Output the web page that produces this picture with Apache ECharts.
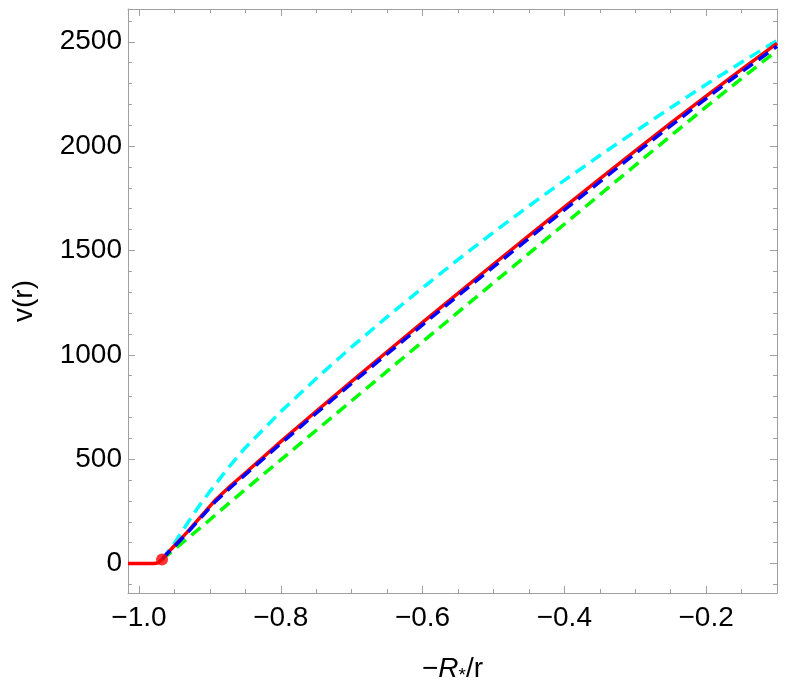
<!DOCTYPE html>
<html><head><meta charset="utf-8">
<script src="https://cdn.jsdelivr.net/npm/echarts@6/dist/echarts.min.js"></script>
<style>html,body{margin:0;padding:0;background:#fff}#c{width:789px;height:694px}</style>
</head><body><div id="c"></div>
<script>
const xMajor = [-1.0, -0.8, -0.6, -0.4, -0.2];
const xMinor = [-0.95, -0.9, -0.85, -0.75, -0.7, -0.65, -0.55, -0.5, -0.45, -0.35, -0.3, -0.25, -0.15, -0.1];
const yMajor = [0, 500, 1000, 1500, 2000, 2500];
const yMinor = [-100, 100, 200, 300, 400, 600, 700, 800, 900, 1100, 1200, 1300, 1400, 1600, 1700, 1800, 1900, 2100, 2200, 2300, 2400, 2600];

const redX = [-1.0155, -0.99, -0.98, -0.976, -0.973, -0.9705, -0.9675, -0.96, -0.95, -0.933, -0.91, -0.893, -0.87, -0.85, -0.8, -0.75, -0.7, -0.65, -0.6, -0.55, -0.5, -0.45, -0.4, -0.35, -0.3, -0.25, -0.2, -0.15, -0.1];
const redV = [0, 0, 0, 1, 4, 10, 20, 50, 85, 147, 236, 302, 375, 434, 584, 730, 873, 1015, 1156, 1295, 1434, 1571, 1708, 1843, 1977, 2110, 2240, 2368, 2492];

const blueX = [-0.9675, -0.96, -0.95, -0.933, -0.91, -0.893, -0.87, -0.85, -0.8, -0.75, -0.7, -0.65, -0.6, -0.55, -0.5, -0.45, -0.4, -0.35, -0.3, -0.25, -0.2, -0.15, -0.1];
const blueV = [20, 48, 82, 142, 230, 295, 367, 426, 575, 720, 863, 1004, 1144, 1283, 1421, 1558, 1694, 1829, 1964, 2097, 2228, 2356, 2478];

const cyanX = [-0.9675, -0.961, -0.95, -0.94, -0.925, -0.914, -0.9, -0.875, -0.85, -0.8, -0.75, -0.7, -0.65, -0.6, -0.55, -0.5, -0.45, -0.4, -0.35, -0.3, -0.25, -0.2, -0.15, -0.1];
const cyanV = [20, 49, 98, 150, 228, 282, 345, 455, 555, 728, 887, 1038, 1182, 1321, 1456, 1587, 1713, 1836, 1955, 2070, 2184, 2295, 2402, 2506];

const greenX = [-0.9675, -0.95, -0.9, -0.868, -0.8, -0.7, -0.6, -0.5, -0.4, -0.3, -0.255, -0.2, -0.15, -0.1];
const greenV = [20, 68, 210, 304, 497, 780, 1063, 1345, 1626, 1908, 2035, 2188, 2324, 2458];

const dotX = -0.9675, dotV = 20;

const zip = (xs, ys) => xs.map((x, i) => [x, ys[i]]);
const FRAME = '#a0a0a0';
const FONT = '"Liberation Sans", Arial, sans-serif';
const FS = 28;
const fmtX = v => '\u2212' + Math.abs(v).toFixed(1);

function xAx(pos, vals, len, labels, line) {
  return {
    type: 'value', position: pos, min: -1.0155, max: -0.1, gridIndex: 0,
    axisLine: { show: line, onZero: false, lineStyle: { color: FRAME, width: 1 } },
    axisTick: { show: true, inside: true, length: len, customValues: vals, lineStyle: { color: FRAME, width: 1 } },
    axisLabel: labels ? { show: true, customValues: vals, formatter: fmtX, color: '#000', fontSize: FS, fontFamily: FONT, margin: 11 } : { show: false },
    splitLine: { show: false }
  };
}
function yAx(pos, vals, len, labels, line) {
  return {
    type: 'value', position: pos, min: -141, max: 2657, gridIndex: 0,
    axisLine: { show: line, onZero: false, lineStyle: { color: FRAME, width: 1 } },
    axisTick: { show: true, inside: true, length: len, customValues: vals, lineStyle: { color: FRAME, width: 1 } },
    axisLabel: labels ? { show: true, customValues: vals, formatter: v => String(v), color: '#000', fontSize: FS, fontFamily: FONT, margin: 6 } : { show: false },
    splitLine: { show: false }
  };
}

const xAxes = [xAx('bottom', xMajor, 7, true, true), xAx('bottom', xMinor, 4, false, false), xAx('top', xMajor, 7, false, true), xAx('top', xMinor, 4, false, false)];
xAxes[0].name = '{n|\u2212}{i|R}{s|*}{n|/r}';
xAxes[0].nameLocation = 'middle';
xAxes[0].nameGap = 60;
xAxes[0].nameTextStyle = {
  color: '#000', fontFamily: FONT, fontSize: FS,
  rich: {
    n: { fontSize: FS, fontFamily: FONT, color: '#000', lineHeight: 32 },
    i: { fontSize: FS, fontFamily: FONT, fontStyle: 'italic', color: '#000', lineHeight: 32 },
    s: { fontSize: 19, fontFamily: FONT, color: '#000', verticalAlign: 'bottom', lineHeight: 32, padding: [16, 0, 0, 0] }
  }
};
const yAxes = [yAx('left', yMajor, 7, true, true), yAx('left', yMinor, 4, false, false), yAx('right', yMajor, 7, false, true), yAx('right', yMinor, 4, false, false)];
yAxes[0].name = 'v(r)';
yAxes[0].nameLocation = 'middle';
yAxes[0].nameGap = 90;
yAxes[0].nameRotate = 90;
yAxes[0].nameTextStyle = { color: '#000', fontFamily: FONT, fontSize: FS };

function lineSeries(data, color, dashed, z) {
  return {
    type: 'line', data: data, xAxisIndex: 0, yAxisIndex: 0, showSymbol: false, symbol: 'none',
    smooth: false, z: z, animation: false, clip: true,
    lineStyle: { color: color, width: 3.5, type: dashed ? [12, 7] : 'solid', cap: 'butt', join: 'round' }
  };
}

const chart = echarts.init(document.getElementById('c'), null, { renderer: 'canvas' });
chart.setOption({
  animation: false,
  backgroundColor: '#fff',
  grid: { left: 128, right: 12, top: 9, bottom: 101, containLabel: false },
  xAxis: xAxes,
  yAxis: yAxes,
  series: [
    lineSeries(zip(cyanX, cyanV), '#00ffff', true, 2),
    lineSeries(zip(greenX, greenV), '#00ff00', true, 3),
    lineSeries(zip(redX, redV), '#ff0000', false, 4),
    lineSeries(zip(blueX, blueV), '#0000ff', true, 5),
    { type: 'scatter', data: [[dotX, dotV]], symbolSize: 12, itemStyle: { color: '#ff0000' }, z: 6, animation: false }
  ]
});
</script></body></html>
